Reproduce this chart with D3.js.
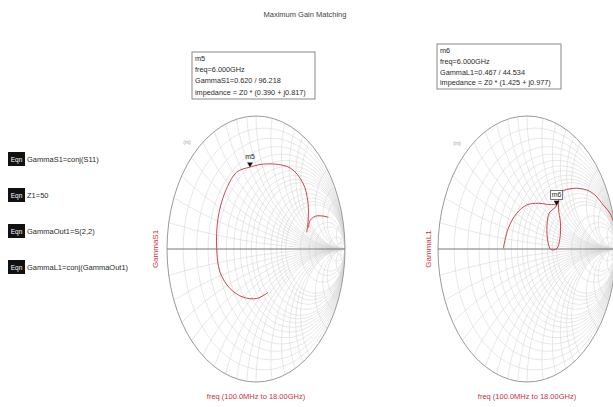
<!DOCTYPE html>
<html>
<head>
<meta charset="utf-8">
<script src="https://cdn.jsdelivr.net/npm/d3@7/dist/d3.min.js"></script>
<style>
  body { margin: 0; background: #fff; }
  svg { display: block; font-family: "Liberation Sans", Arial, sans-serif; }
</style>
</head>
<body>
<svg id="chart" width="613" height="407"></svg>
<script>
// ---- data -------------------------------------------------------------
const chartTitle = "Maximum Gain Matching";
const equationTexts = ["GammaS1=conj(S11)", "Z1=50", "GammaOut1=S(2,2)", "GammaL1=conj(GammaOut1)"];
const traceNames = ["GammaS1", "GammaL1"];
const sweepLabels = ["freq (100.0MHz to 18.00GHz)", "freq (100.0MHz to 18.00GHz)"];

// GammaS1 = conj(S11), reflection coefficient (real, imaginary)
const gammaS1Re = [0.135, 0.008, -0.146, -0.292, -0.404, -0.442, -0.427, -0.348, -0.217, -0.067, 0.120, 0.382, 0.528, 0.584, 0.584, 0.570];
const gammaS1Im = [-0.327, -0.372, -0.362, -0.297, -0.174, 0.004, 0.229, 0.427, 0.577, 0.616, 0.640, 0.610, 0.495, 0.350, 0.199, 0.126];
// upper band of GammaS1
const gammaS1HiRe = [0.590, 0.607, 0.644, 0.690, 0.757, 0.813];
const gammaS1HiIm = [0.160, 0.214, 0.239, 0.250, 0.247, 0.239];

// GammaL1 = conj(GammaOut1)
const gammaL1Re = [-0.266, -0.210, -0.116, -0.003, 0.127, 0.230, 0.333, 0.250, 0.225, 0.235, 0.270, 0.335, 0.370, 0.375, 0.355, 0.380, 0.520, 0.671, 0.764, 0.857, 0.933, 0.975];
const gammaL1Im = [0.005, 0.156, 0.268, 0.331, 0.344, 0.335, 0.327, 0.270, 0.180, 0.055, -0.005, 0.003, 0.080, 0.205, 0.300, 0.425, 0.456, 0.444, 0.406, 0.331, 0.268, 0.200];

// markers at 6 GHz
const markerNames = ["m5", "m6"];
const markerFreqs = ["6.000GHz", "6.000GHz"];
const markerMags = [0.620, 0.467];
const markerAngles = [96.218, 44.534];
const markerZRe = [0.390, 1.425];
const markerZIm = [0.817, 0.977];

// Smith grid: normalized resistance and reactance values
const resistanceTicks = [0.1, 0.2, 0.3, 0.4, 0.5, 0.6, 0.7, 0.8, 0.9, 1, 1.2, 1.4, 1.6, 1.8, 2, 3, 4, 5, 10, 20];
const reactanceTicks = [0.1, 0.2, 0.3, 0.4, 0.5, 0.6, 0.7, 0.8, 0.9, 1, 1.2, 1.4, 1.6, 1.8, 2, 3, 4, 5, 10, 20];

// ---- drawing ----------------------------------------------------------
const svg = d3.select("#chart");
const traceColor = "#c8323c";
const textColor = "#2a2a2a";

svg.append("text")
  .attr("x", 305).attr("y", 17)
  .attr("text-anchor", "middle")
  .attr("font-size", 7.5).attr("fill", "#444")
  .text(chartTitle);

// equation blocks
const eqY = [159, 195, 231, 267];
const eq = svg.append("g");
equationTexts.forEach((t, i) => {
  const g = eq.append("g").attr("transform", `translate(8,${eqY[i]})`);
  g.append("rect").attr("x", 0).attr("y", -7).attr("width", 17).attr("height", 14).attr("fill", "#111");
  g.append("text").attr("x", 8.5).attr("y", 2.5).attr("text-anchor", "middle")
    .attr("font-size", 6.5).attr("fill", "#fff").text("Eqn");
  g.append("text").attr("x", 19).attr("y", 2.5)
    .attr("font-size", 7.5).attr("fill", textColor).text(t);
});

const panels = [
  { cx: 256, cy: 249, rx: 89, ry: 133, re: [gammaS1Re, gammaS1HiRe], im: [gammaS1Im, gammaS1HiIm],
    box: { x: 192, y: 52, w: 123, h: 47, step: 11.2 }, ylabX: 158, tagX: 187, tagY: 144, boxedTag: false },
  { cx: 527, cy: 249, rx: 89, ry: 133, re: [gammaL1Re], im: [gammaL1Im],
    box: { x: 437, y: 44, w: 124, h: 45, step: 10.8 }, ylabX: 431, tagX: 457, tagY: 145, boxedTag: true }
];

panels.forEach((p, k) => {
  const x = d3.scaleLinear().domain([-1, 1]).range([p.cx - p.rx, p.cx + p.rx]);
  const y = d3.scaleLinear().domain([-1, 1]).range([p.cy + p.ry, p.cy - p.ry]);
  const sx = p.rx, sy = p.ry; // pixels per unit of |Gamma|

  const clipId = "clip" + k;
  svg.append("clipPath").attr("id", clipId)
    .append("ellipse").attr("cx", x(0)).attr("cy", y(0)).attr("rx", sx).attr("ry", sy);

  const grid = svg.append("g").attr("clip-path", `url(#${clipId})`)
    .attr("fill", "none").attr("stroke", "#d6d6d6").attr("stroke-width", 0.6);

  // constant resistance circles
  grid.selectAll("ellipse.r").data(resistanceTicks).join("ellipse").attr("class", "r")
    .attr("cx", r => x(r / (1 + r))).attr("cy", y(0))
    .attr("rx", r => sx / (1 + r)).attr("ry", r => sy / (1 + r));

  // constant reactance arcs (both signs)
  const xs = reactanceTicks.flatMap(v => [v, -v]);
  grid.selectAll("ellipse.x").data(xs).join("ellipse").attr("class", "x")
    .attr("cx", x(1)).attr("cy", v => y(1 / v))
    .attr("rx", v => sx / Math.abs(v)).attr("ry", v => sy / Math.abs(v));

  // outer rim and real axis
  svg.append("ellipse").attr("cx", x(0)).attr("cy", y(0)).attr("rx", sx).attr("ry", sy)
    .attr("fill", "none").attr("stroke", "#9a9a9a").attr("stroke-width", 1);
  svg.append("line").attr("x1", x(-1)).attr("x2", x(1)).attr("y1", y(0)).attr("y2", y(0))
    .attr("stroke", "#777").attr("stroke-width", 1);

  // traces
  const line = d3.line().x(d => x(d[0])).y(d => y(d[1])).curve(d3.curveCatmullRom.alpha(0.5));
  p.re.forEach((reArr, j) => {
    const pts = reArr.map((v, i) => [v, p.im[j][i]]);
    svg.append("path").datum(pts).attr("d", line)
      .attr("clip-path", `url(#${clipId})`)
      .attr("fill", "none").attr("stroke", traceColor).attr("stroke-width", 0.9);
  });

  // marker
  const a = markerAngles[k] * Math.PI / 180;
  const mx = x(markerMags[k] * Math.cos(a)), my = y(markerMags[k] * Math.sin(a));
  svg.append("path").attr("d", d3.symbol(d3.symbolTriangle, 14)())
    .attr("transform", `translate(${mx},${my - 3}) rotate(180)`).attr("fill", "#111");
  if (p.boxedTag) {
    svg.append("rect").attr("x", mx - 6).attr("y", my - 15).attr("width", 12).attr("height", 9)
      .attr("fill", "#fff").attr("stroke", "#555").attr("stroke-width", 0.8);
  }
  svg.append("text").attr("x", mx).attr("y", my - 8).attr("text-anchor", "middle")
    .attr("font-size", 7).attr("fill", textColor).text(markerNames[k]);

  // marker readout box
  const b = p.box;
  svg.append("rect").attr("x", b.x).attr("y", b.y).attr("width", b.w).attr("height", b.h)
    .attr("fill", "#fff").attr("stroke", "#888").attr("stroke-width", 1);
  const lines = [
    markerNames[k],
    "freq=" + markerFreqs[k],
    traceNames[k] + "=" + markerMags[k].toFixed(3) + " / " + markerAngles[k].toFixed(3),
    "impedance = Z0 * (" + markerZRe[k].toFixed(3) + " + j" + markerZIm[k].toFixed(3) + ")"
  ];
  svg.append("g").selectAll("text").data(lines).join("text")
    .attr("x", b.x + 3).attr("y", (d, i) => b.y + 9 + i * b.step)
    .attr("font-size", 7.3).attr("fill", textColor).text(d => d);

  // small tag in upper-left of the chart
  svg.append("text").attr("x", p.tagX).attr("y", p.tagY).attr("text-anchor", "middle")
    .attr("font-size", 5).attr("fill", "#999").text("(m)");

  // y label (trace name) and sweep label
  svg.append("text")
    .attr("transform", `translate(${p.ylabX},${y(0)}) rotate(-90)`)
    .attr("text-anchor", "middle").attr("font-size", 8).attr("fill", traceColor)
    .text(traceNames[k]);
  svg.append("text").attr("x", x(0)).attr("y", 399).attr("text-anchor", "middle")
    .attr("font-size", 7.5).attr("fill", traceColor).text(sweepLabels[k]);
});
</script>
</body>
</html>
